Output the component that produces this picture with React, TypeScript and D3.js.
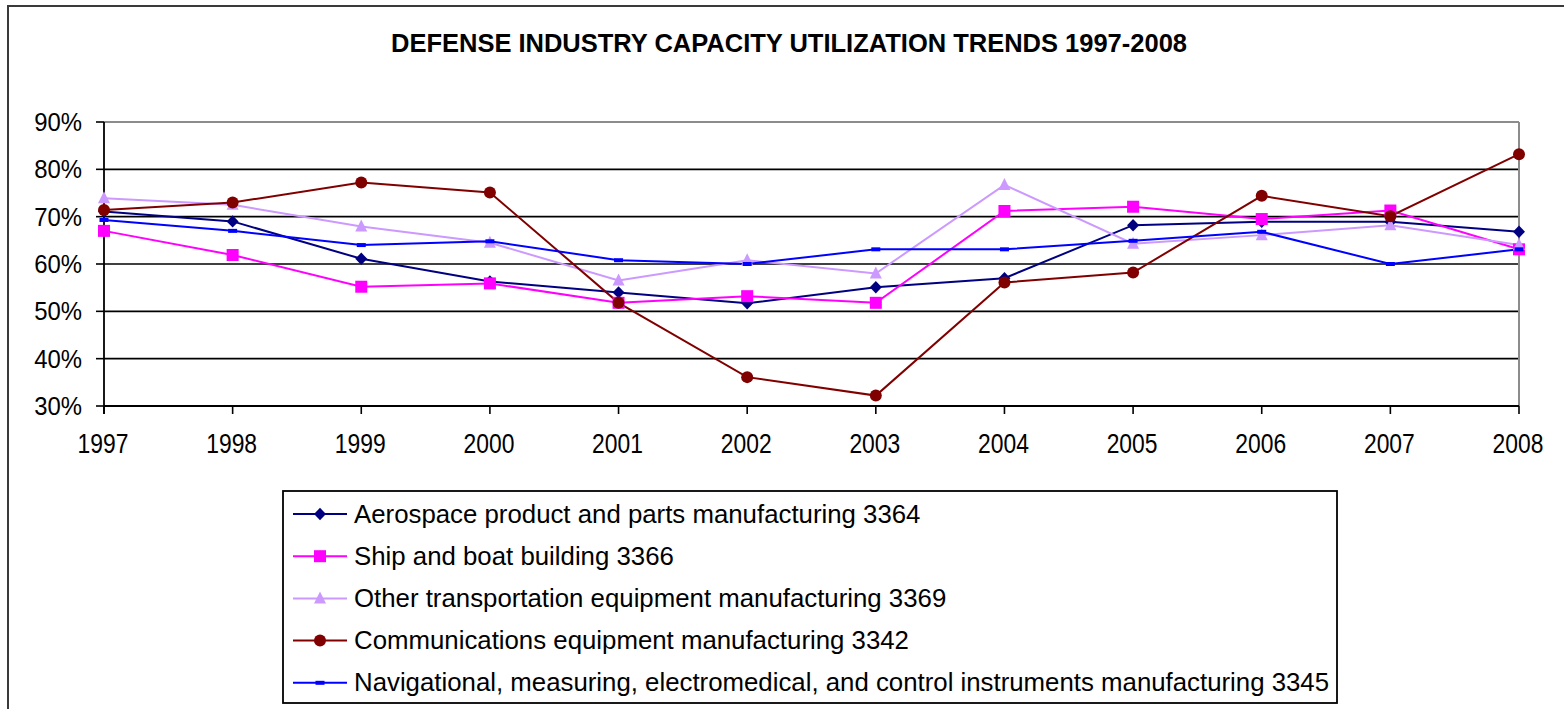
import React from "react";
import * as d3 from "d3";

// Years on the category axis
const years = [1997, 1998, 1999, 2000, 2001, 2002, 2003, 2004, 2005, 2006, 2007, 2008];

// Capacity utilization (%) per industry
const aerospace = [71.1, 69.0, 61.1, 56.3, 54.0, 51.7, 55.1, 57.0, 68.2, 68.9, 68.9, 66.8];
const shipBoat = [67.0, 61.9, 55.2, 55.9, 51.8, 53.2, 51.8, 71.2, 72.1, 69.5, 71.3, 63.1];
const otherTransport = [73.9, 72.5, 67.9, 64.5, 56.5, 60.8, 58.0, 76.7, 64.3, 66.1, 68.2, 64.0];
const communications = [71.4, 73.0, 77.2, 75.1, 51.8, 36.1, 32.2, 56.1, 58.2, 74.4, 70.1, 83.2];
const navigational = [69.3, 67.0, 64.0, 64.8, 60.8, 60.0, 63.1, 63.1, 64.9, 66.8, 60.0, 63.1];

const seriesNames = [
  "Aerospace product and parts manufacturing 3364",
  "Ship and boat building 3366",
  "Other transportation equipment manufacturing 3369",
  "Communications equipment manufacturing 3342",
  "Navigational, measuring, electromedical, and control instruments manufacturing 3345",
];

const yTicks = [30, 40, 50, 60, 70, 80, 90];

const title = "DEFENSE INDUSTRY CAPACITY UTILIZATION TRENDS 1997-2008";

type MarkerKind = "diamond" | "square" | "triangle" | "circle" | "dash";

const series = [
  { name: seriesNames[0], values: aerospace, color: "#000080", marker: "diamond" as MarkerKind },
  { name: seriesNames[1], values: shipBoat, color: "#FF00FF", marker: "square" as MarkerKind },
  { name: seriesNames[2], values: otherTransport, color: "#CC99FF", marker: "triangle" as MarkerKind },
  { name: seriesNames[3], values: communications, color: "#800000", marker: "circle" as MarkerKind },
  { name: seriesNames[4], values: navigational, color: "#0000FF", marker: "dash" as MarkerKind },
];

function Marker({ kind, x, y, color }: { kind: MarkerKind; x: number; y: number; color: string }) {
  switch (kind) {
    case "diamond":
      return <path d={`M${x},${y - 6.2}L${x + 6},${y}L${x},${y + 6.2}L${x - 6},${y}Z`} fill={color} />;
    case "square":
      return <rect x={x - 6} y={y - 6} width={12} height={12} fill={color} />;
    case "triangle":
      return <path d={`M${x},${y - 7}L${x + 6},${y + 5}L${x - 6},${y + 5}Z`} fill={color} />;
    case "circle":
      return <circle cx={x} cy={y} r={6} fill={color} />;
    default:
      return <rect x={x - 4.5} y={y - 2} width={9} height={4} fill={color} />;
  }
}

export default function App() {
  const W = 1564;
  const H = 709;
  const plot = { left: 104, right: 1519, top: 122, bottom: 406 };

  const x = d3
    .scalePoint<number>()
    .domain(years)
    .range([plot.left, plot.right]);
  const y = d3.scaleLinear().domain([30, 90]).range([plot.bottom, plot.top]);

  const line = d3
    .line<number>()
    .x((_, i) => x(years[i]) as number)
    .y((d) => y(d));

  const font = "Arial, 'Liberation Sans', sans-serif";

  const legend = { left: 283, top: 491, right: 1337, bottom: 703, rowY0: 514, rowStep: 42.2 };

  return (
    <svg
      width={W}
      height={H}
      style={{ position: "absolute", left: 0, top: 0, display: "block", background: "#fff" }}
    >
      <rect x={0} y={0} width={W} height={H} fill="#fff" />
      {/* chart frame */}
      <rect x={8} y={6} width={W + 20} height={H + 20} fill="none" stroke="#3a3a3a" strokeWidth={2} />

      {/* title */}
      <text
        x={789}
        y={52}
        textAnchor="middle"
        fontFamily={font}
        fontWeight="bold"
        fontSize={25.3}
        textLength={796}
        lengthAdjust="spacingAndGlyphs"
        fill="#000"
      >
        {title}
      </text>

      {/* horizontal gridlines */}
      {yTicks.map((t) => (
        <line
          key={`g${t}`}
          x1={plot.left}
          x2={plot.right}
          y1={y(t)}
          y2={y(t)}
          stroke={t === 90 ? "#8c8c8c" : "#000"}
          strokeWidth={t === 90 ? 2 : 1.6}
        />
      ))}
      {/* right border of plot area */}
      <line x1={plot.right} x2={plot.right} y1={plot.top} y2={plot.bottom} stroke="#8c8c8c" strokeWidth={2} />

      {/* y axis */}
      <line x1={plot.left} x2={plot.left} y1={plot.top} y2={plot.bottom + 8} stroke="#000" strokeWidth={1.8} />
      {yTicks.map((t) => (
        <g key={`yt${t}`}>
          <line x1={plot.left - 8} x2={plot.left} y1={y(t)} y2={y(t)} stroke="#000" strokeWidth={1.6} />
          <text
            transform={`translate(${plot.left - 22},${y(t) + 9}) scale(0.92,1)`}
            textAnchor="end"
            fontFamily={font}
            fontSize={26}
            fill="#000"
          >
            {`${t}%`}
          </text>
        </g>
      ))}

      {/* x axis */}
      <line x1={plot.left} x2={plot.right} y1={plot.bottom} y2={plot.bottom} stroke="#000" strokeWidth={1.8} />
      {years.map((yr) => (
        <g key={`xt${yr}`}>
          <line
            x1={x(yr) as number}
            x2={x(yr) as number}
            y1={plot.bottom}
            y2={plot.bottom + 8}
            stroke="#000"
            strokeWidth={1.6}
          />
          <text
            transform={`translate(${(x(yr) as number) - 1},${plot.bottom + 47}) scale(0.88,1.05)`}
            textAnchor="middle"
            fontFamily={font}
            fontSize={26}
            fill="#000"
          >
            {yr}
          </text>
        </g>
      ))}

      {/* series lines */}
      {series.map((s) => (
        <path key={`l${s.name}`} d={line(s.values) || ""} fill="none" stroke={s.color} strokeWidth={2} />
      ))}
      {/* series markers */}
      {series.map((s) => (
        <g key={`m${s.name}`}>
          {s.values.map((v, i) => (
            <Marker key={i} kind={s.marker} x={x(years[i]) as number} y={y(v)} color={s.color} />
          ))}
        </g>
      ))}

      {/* legend */}
      <rect
        x={legend.left}
        y={legend.top}
        width={legend.right - legend.left}
        height={legend.bottom - legend.top}
        fill="#fff"
        stroke="#000"
        strokeWidth={1.8}
      />
      {series.map((s, i) => {
        const ry = legend.rowY0 + i * legend.rowStep;
        return (
          <g key={`lg${s.name}`}>
            <line x1={293} x2={347} y1={ry} y2={ry} stroke={s.color} strokeWidth={2} />
            <Marker kind={s.marker} x={320} y={ry} color={s.color} />
            <text x={354} y={ry + 8.5} fontFamily={font} fontSize={25.8} fill="#000">
              {s.name}
            </text>
          </g>
        );
      })}
    </svg>
  );
}
